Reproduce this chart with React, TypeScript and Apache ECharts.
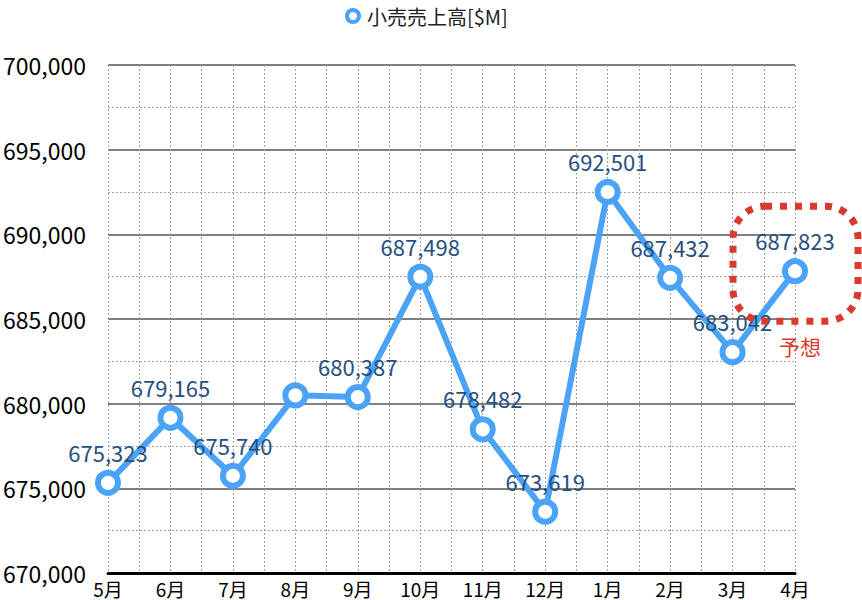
import React, { useEffect, useRef } from "react";
import * as echarts from "echarts";

const categories = ["5月", "6月", "7月", "8月", "9月", "10月", "11月", "12月", "1月", "2月", "3月", "4月"];
const salesValues = [675323, 679165, 675740, 680490, 680387, 687498, 678482, 673619, 692501, 687432, 683042, 687823];
const hiddenLabelIndexes = [3];
const seriesName = "小売売上高[$M]";
const forecastLabel = "予想";
const yMin = 670000;
const yMax = 700000;
const yInterval = 5000;

const FONT = "'Noto Sans CJK JP', 'Noto Sans', sans-serif";
const BLUE = "#4aa3f7";
const NAVY = "#254f80";
const RED = "#d93a2b";

export default function App() {
  const ref = useRef<HTMLDivElement>(null);
  useEffect(() => {
    const chart = echarts.init(ref.current!, null, { renderer: "svg" });
    const option: any = {
      animation: false,
      backgroundColor: "#ffffff",
      textStyle: { fontFamily: FONT },
      legend: {
        top: 1,
        left: 340,
        itemWidth: 18,
        itemHeight: 12,
        itemGap: 8,
        textStyle: { fontSize: 20, color: "#222", fontFamily: FONT },
        itemStyle: { color: "#fff", borderColor: BLUE, borderWidth: 4 },
        data: [{ name: seriesName, icon: "circle" }],
      },
      grid: { left: 105, right: 67, top: 65, bottom: 27, containLabel: false },
      xAxis: [
        {
          type: "category",
          data: categories,
          boundaryGap: false,
          axisLine: { show: true, lineStyle: { color: "#000", width: 3 } },
          axisTick: { show: false },
          axisLabel: { fontSize: 19, lineHeight: 20, color: "#000", margin: 5, fontFamily: FONT },
          splitLine: { show: false },
          z: 3,
        },
        {
          type: "value",
          min: 0,
          max: categories.length - 1,
          interval: 0.5,
          show: true,
          position: "top",
          axisLine: { show: false },
          axisTick: { show: false },
          axisLabel: { show: false },
          splitLine: { show: true, lineStyle: { color: "#a0a0a0", type: [2, 2], width: 1 } },
        },
      ],
      yAxis: {
        type: "value",
        min: yMin,
        max: yMax,
        interval: yInterval,
        axisLine: { show: false },
        axisTick: { show: false },
        axisLabel: {
          fontSize: 23,
          color: "#000",
          margin: 22,
          fontFamily: FONT,
          formatter: (v: number) => v.toLocaleString("en-US"),
        },
        splitLine: { show: true, lineStyle: { color: "#555", width: 1.5 } },
        minorTick: { show: false, splitNumber: 2 },
        minorSplitLine: { show: true, lineStyle: { color: "#a0a0a0", type: [2, 2], width: 1 } },
      },
      series: [
        {
          name: seriesName,
          type: "line",
          xAxisIndex: 0,
          data: salesValues.map((v, i) => ({
            value: v,
            label: { show: !hiddenLabelIndexes.includes(i) },
          })),
          symbol: "circle",
          symbolSize: 20,
          showAllSymbol: true,
          lineStyle: { color: BLUE, width: 6 },
          itemStyle: { color: "#fff", borderColor: BLUE, borderWidth: 6 },
          label: {
            show: true,
            position: "top",
            distance: 7,
            fontSize: 22,
            color: NAVY,
            fontFamily: FONT,
            formatter: (p: any) => Number(p.value).toLocaleString("en-US"),
          },
          z: 5,
        },
      ],
    };
    chart.setOption(option);
    const last = categories.length - 1;
    const pt = chart.convertToPixel({ xAxisIndex: 0, yAxisIndex: 0 }, [last, salesValues[last]]) as number[];
    if (pt) {
      const [px, py] = pt;
      chart.setOption({
        graphic: [
          {
            type: "rect",
            shape: { x: px - 62, y: py - 65, width: 125, height: 115, r: 32 },
            style: { fill: "none", stroke: RED, lineWidth: 7, lineDash: [7, 8] },
            z: 10,
          },
          {
            type: "text",
            x: px + 5,
            y: py + 75,
            style: {
              text: forecastLabel,
              fill: RED,
              fontSize: 21,
              fontFamily: FONT,
              textAlign: "center",
              textVerticalAlign: "middle",
            },
            z: 10,
          },
        ],
      });
    }
    return () => chart.dispose();
  }, []);
  return <div ref={ref} style={{ width: 862, height: 600, position: "absolute", left: 0, top: 0 }} />;
}
